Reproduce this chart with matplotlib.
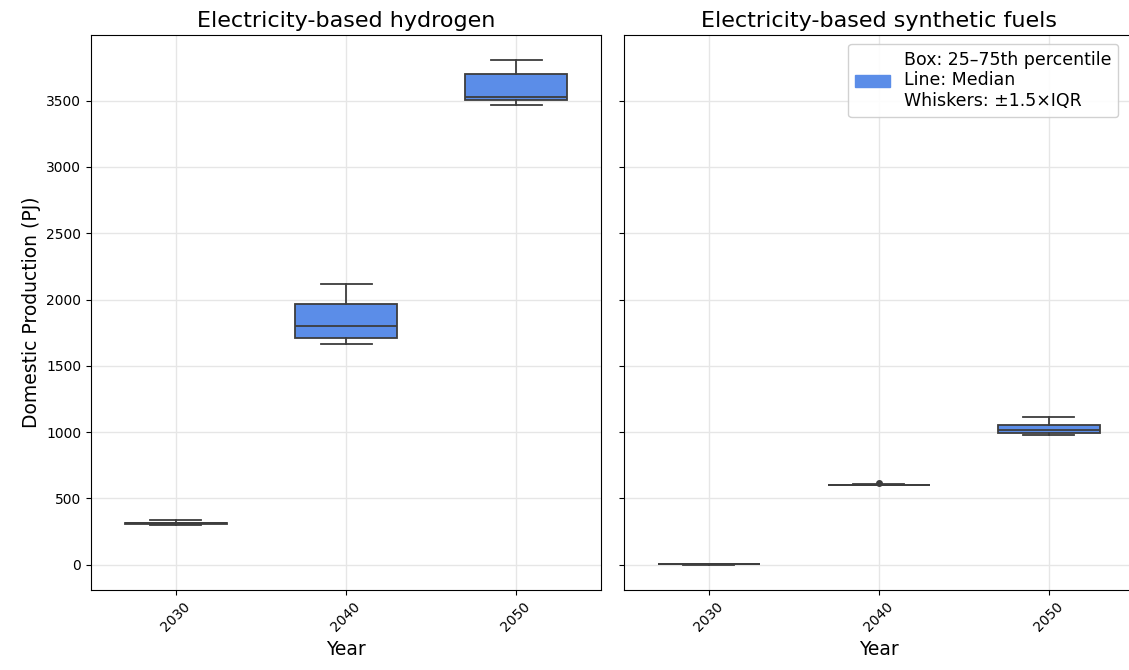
import matplotlib
matplotlib.use("Agg")
import matplotlib.pyplot as plt
from matplotlib.patches import Patch

years = ['2030', '2040', '2050']

# box stats (PJ)
h2_whislo = [300, 1666, 3468]
h2_q1 = [306, 1712, 3506]
h2_med = [312, 1802, 3529]
h2_q3 = [318, 1968, 3702]
h2_whishi = [336, 2119, 3808]
h2_fliers = [[], [], []]

syn_whislo = [2, 598, 980]
syn_q1 = [4, 600, 996]
syn_med = [5, 602, 1015]
syn_q3 = [6, 604, 1056]
syn_whishi = [8, 606, 1116]
syn_fliers = [[], [618], []]

box_color = '#5b8de8'
line_color = '#3d3d3d'


def make_stats(lo, q1, med, q3, hi, fl):
	stats = []
	for i in range(len(years)):
		stats.append({'whislo': lo[i], 'q1': q1[i], 'med': med[i], 'q3': q3[i],
			'whishi': hi[i], 'fliers': fl[i], 'label': years[i]})
	return stats


fig, axes = plt.subplots(1, 2, figsize=(11.29, 6.7), dpi=100, sharey=True)
panels = [
	('Electricity-based hydrogen', make_stats(h2_whislo, h2_q1, h2_med, h2_q3, h2_whishi, h2_fliers)),
	('Electricity-based synthetic fuels', make_stats(syn_whislo, syn_q1, syn_med, syn_q3, syn_whishi, syn_fliers)),
]

lw = 1.3
for ax, (title, stats) in zip(axes, panels):
	ax.set_axisbelow(True)
	ax.grid(True, color='#e6e6e6', linewidth=1)
	ax.bxp(stats, positions=range(len(years)), widths=0.6, patch_artist=True,
		boxprops=dict(facecolor=box_color, edgecolor=line_color, linewidth=lw),
		medianprops=dict(color=line_color, linewidth=lw),
		whiskerprops=dict(color=line_color, linewidth=lw),
		capprops=dict(color=line_color, linewidth=lw),
		flierprops=dict(marker='o', markersize=4, markerfacecolor=line_color, markeredgecolor=line_color))
	ax.set_xlim(-0.5, 2.5)
	ax.set_title(title, fontsize=16)
	ax.set_xlabel('Year', fontsize=13.5)
	ax.tick_params(axis='x', rotation=45)

axes[0].set_ylim(-190, 3995)
axes[0].set_ylabel('Domestic Production (PJ)', fontsize=13.5)

handle = Patch(facecolor=box_color, edgecolor=box_color)
axes[1].legend([handle], ['Box: 25\u201375th percentile\nLine: Median\nWhiskers: \u00b11.5\u00d7IQR'],
	loc='upper right', bbox_to_anchor=(0.986, 1.0), fontsize=12.5, handlelength=2.0, framealpha=0.9)

plt.subplots_adjust(left=0.0806, right=1.0044, top=0.9478, bottom=0.1194, wspace=0.045)
plt.savefig('out.png', dpi=100)
